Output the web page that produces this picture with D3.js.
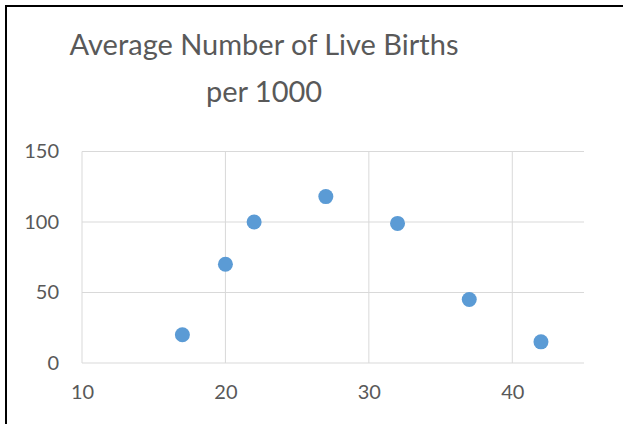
<!DOCTYPE html>
<html><head><meta charset="utf-8">
<script src="https://cdn.jsdelivr.net/npm/d3@7"></script>
<style>html,body{margin:0;padding:0;background:#fff;}svg{display:block;}</style>
</head><body>
<script>
const ages = [17, 20, 22, 27, 32, 37, 42];
const births = [20, 70, 100, 118, 99, 45, 15];
const xTicks = [10, 20, 30, 40];
const yTicks = [0, 50, 100, 150];
const titleLines = ["Average Number of Live Births", "per 1000"];

const W = 623, H = 424;
const svg = d3.select("body").append("svg").attr("width", W).attr("height", H);
svg.append("rect").attr("x", 0).attr("y", 0).attr("width", W).attr("height", H).attr("fill", "#fff");
// chart frame (right/bottom cropped)
svg.append("rect").attr("x", 6).attr("y", 6).attr("width", 640).attr("height", 440)
  .attr("fill", "none").attr("stroke", "#000").attr("stroke-width", 2);

const x = d3.scaleLinear().domain([10, 45]).range([82, 584]);
const y = d3.scaleLinear().domain([0, 150]).range([363, 151.5]);
const font = "Lato, 'Open Sans', sans-serif";
const txt = "#595959";

// gridlines
svg.append("g").selectAll("line").data(yTicks).join("line")
  .attr("x1", x(10)).attr("x2", x(45)).attr("y1", d => y(d)).attr("y2", d => y(d))
  .attr("stroke", "#D9D9D9").attr("stroke-width", 1);
svg.append("g").selectAll("line").data(xTicks).join("line")
  .attr("x1", d => x(d)).attr("x2", d => x(d)).attr("y1", y(0)).attr("y2", y(150))
  .attr("stroke", "#D9D9D9").attr("stroke-width", 1);

// axes labels via d3 axes
const yAxis = svg.append("g").attr("transform", `translate(${x(10)},0)`)
  .call(d3.axisLeft(y).tickValues(yTicks).tickSize(0).tickPadding(23));
const xAxis = svg.append("g").attr("transform", `translate(0,${y(0)})`)
  .call(d3.axisBottom(x).tickValues(xTicks).tickSize(0).tickPadding(22));
[yAxis, xAxis].forEach(a => {
  a.select(".domain").remove();
  a.selectAll("text").attr("fill", txt).style("font-family", font).style("font-size", "20px");
});

// points
svg.append("g").selectAll("circle").data(ages.map((a, i) => [a, births[i]])).join("circle")
  .attr("cx", d => x(d[0])).attr("cy", d => y(d[1])).attr("r", 7.5)
  .attr("fill", "#5B9BD5");

// title
svg.append("g").selectAll("text").data(titleLines).join("text")
  .attr("x", 264).attr("y", (d, i) => 55 + i * 47)
  .attr("text-anchor", "middle").attr("fill", txt)
  .style("font-family", font).style("font-size", "29px")
  .text(d => d);
</script>
</body></html>
